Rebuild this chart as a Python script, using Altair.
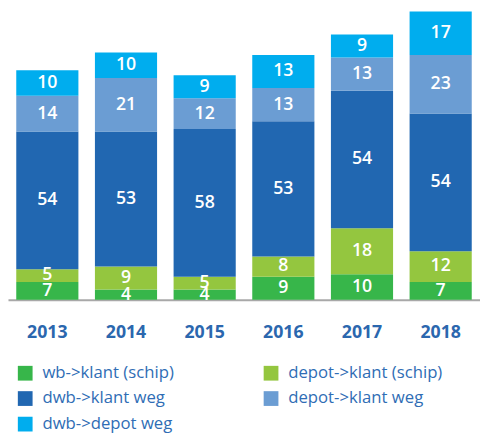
import altair as alt
import pandas as pd

years = ["2013", "2014", "2015", "2016", "2017", "2018"]
categories = ["wb->klant (schip)", "depot->klant (schip)", "dwb->klant weg",
              "depot->klant weg", "dwb->depot weg"]
stack_order = [1, 2, 3, 4, 5]
# legend order (filled column by column)
legend_order = ["wb->klant (schip)", "dwb->klant weg", "dwb->depot weg",
                "depot->klant (schip)", "depot->klant weg"]
legend_colors = ["#37B64A", "#2167B1", "#00ADEE", "#94C63F", "#6B9DD3"]

wb_klant_schip = [7, 4, 4, 9, 10, 7]
depot_klant_schip = [5, 9, 5, 8, 18, 12]
dwb_klant_weg = [54, 53, 58, 53, 54, 54]
depot_klant_weg = [14, 21, 12, 13, 13, 23]
dwb_depot_weg = [10, 10, 9, 13, 9, 17]

series = [wb_klant_schip, depot_klant_schip, dwb_klant_weg, depot_klant_weg, dwb_depot_weg]
rows = []
for cat, order, vals in zip(categories, stack_order, series):
    for y, v in zip(years, vals):
        rows.append({"year": y, "cat": cat, "order": order, "value": v})
df = pd.DataFrame(rows)

FONT = "Open Sans"

base = alt.Chart(df).transform_stack(
    stack="value", groupby=["year"], as_=["v0", "v1"],
    sort=[alt.SortField("order", order="ascending")]
).transform_calculate(mid="(datum.v0 + datum.v1) / 2")

x = alt.X("year:N", sort=years, title=None,
          scale=alt.Scale(paddingInner=0.21, paddingOuter=0.105),
          axis=alt.Axis(labelAngle=0, labelFontSize=18, labelFontWeight="bold",
                        labelColor="#2B67AE", labelFont=FONT, labelPadding=24,
                        ticks=False, domainColor="#A8A8A8", domainWidth=2,
                        grid=False))

bars = base.mark_bar().encode(
    x=x,
    y=alt.Y("v0:Q", scale=alt.Scale(domain=[0, 113], nice=False), axis=None),
    y2="v1:Q",
    color=alt.Color("cat:N", scale=alt.Scale(domain=legend_order, range=legend_colors),
                    legend=alt.Legend(
                        title=None, orient="none", legendX=9, legendY=359,
                        columns=2, columnPadding=90, rowPadding=8,
                        symbolType="square", symbolSize=225, symbolStrokeWidth=0,
                        labelFontSize=17, labelColor="#2F6DB5", labelFont=FONT,
                        labelOffset=9, padding=0, labelLimit=300)),
)

labels = base.mark_text(color="white", fontSize=18, font=FONT, fontWeight=600,
                        baseline="middle").encode(
    x=alt.X("year:N", sort=years),
    y=alt.Y("mid:Q"),
    text=alt.Text("value:Q"),
)

chart = alt.layer(bars, labels).properties(
    width=480, height=293,
    autosize=alt.AutoSizeParams(type="none"),
    padding={"left": 0, "top": 0, "right": 0, "bottom": 140},
).configure_view(stroke=None)

chart.save("out.html", embed_options={"renderer": "svg", "actions": False})
